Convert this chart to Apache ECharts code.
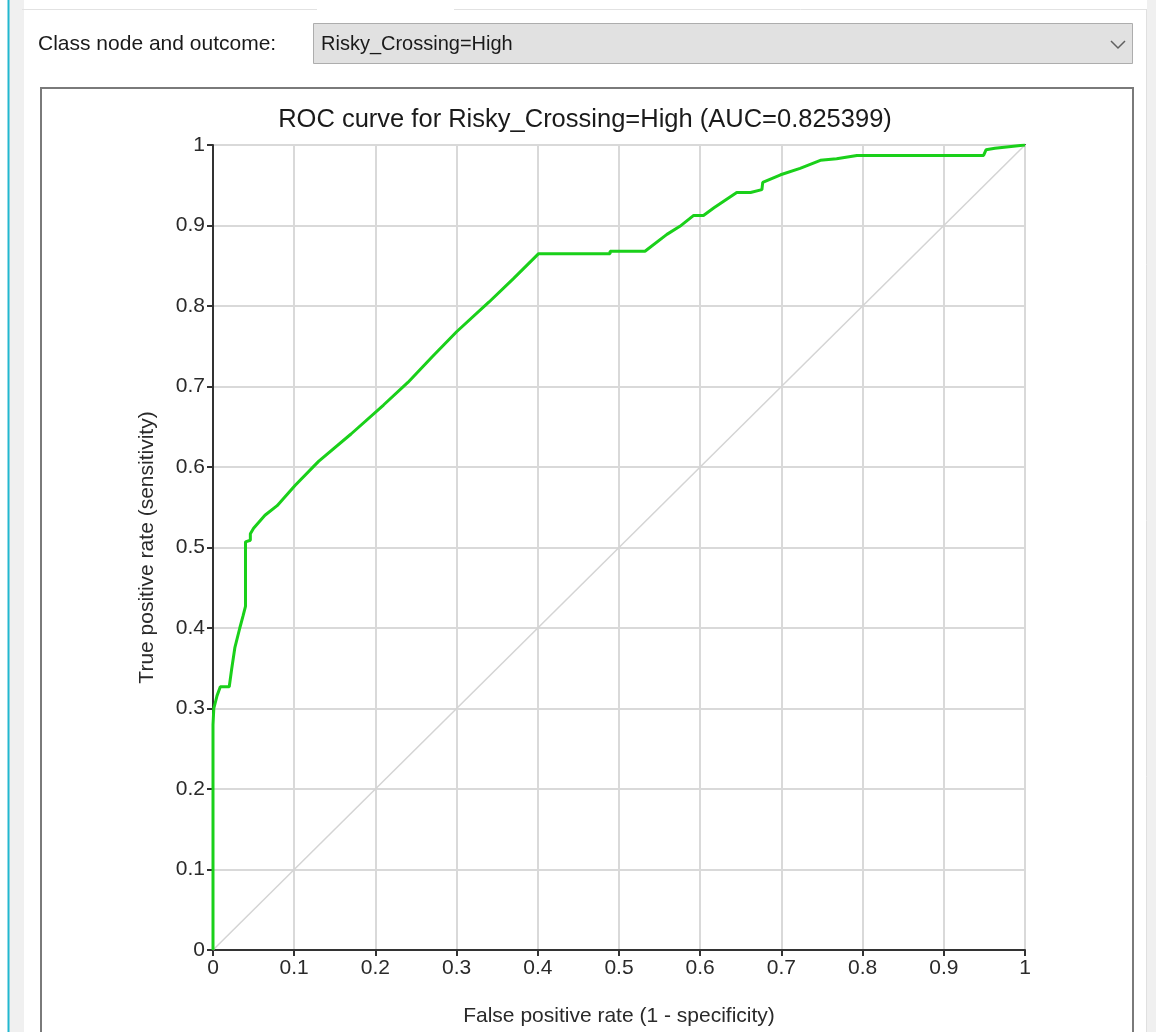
<!DOCTYPE html>
<html>
<head>
<meta charset="utf-8">
<script src="https://cdn.jsdelivr.net/npm/echarts@6/dist/echarts.min.js"></script>
<style>
html,body{margin:0;padding:0;background:#fff;}
#roc{width:1156px;height:1032px;}
</style>
</head>
<body>
<div id="roc"></div>
<script>
// ROC curve points (false positive rate / true positive rate)
var fpr = [0, 0, 0.001, 0.005, 0.009, 0.020, 0.023, 0.027, 0.033, 0.037, 0.040, 0.040, 0.046, 0.046,
    0.050, 0.064, 0.079, 0.101, 0.130, 0.170, 0.210, 0.240, 0.270, 0.300, 0.340, 0.370, 0.401,
    0.489, 0.489, 0.532, 0.559, 0.575, 0.592, 0.604, 0.617, 0.645, 0.662, 0.676, 0.677, 0.699,
    0.723, 0.748, 0.768, 0.793, 0.949, 0.952, 0.963, 0.965, 1];
var tpr = [0, 0.280, 0.300, 0.316, 0.327, 0.327, 0.349, 0.376, 0.400, 0.415, 0.427, 0.507, 0.509, 0.517,
    0.524, 0.540, 0.552, 0.577, 0.607, 0.641, 0.677, 0.705, 0.737, 0.768, 0.805, 0.834, 0.865,
    0.865, 0.868, 0.868, 0.889, 0.899, 0.9125, 0.9125, 0.922, 0.941, 0.941, 0.9446, 0.9535, 0.963,
    0.971, 0.981, 0.983, 0.987, 0.987, 0.994, 0.996, 0.998, 1];
var diagX = [0, 1];
var diagY = [0, 1];

var classLabel = 'Class node and outcome:';
var outcome = 'Risky_Crossing=High';
var auc = '0.825399';

var font = '"Liberation Sans", Arial, sans-serif';

var chart = echarts.init(document.getElementById('roc'));

var curve = fpr.map(function(x, i){ return [x, tpr[i]]; });
var diag = diagX.map(function(x, i){ return [x, diagY[i]]; });

var option = {
    animation: false,
    backgroundColor: '#fff',
    title: {
        text: 'ROC curve for ' + outcome + ' (AUC=' + auc + ')',
        left: 580,
        top: 102,
        textAlign: 'center',
        textStyle: {fontFamily: font, fontSize: 25.5, fontWeight: 'normal', color: '#1a1a1a'}
    },
    grid: {
        left: 213, right: 131, top: 145, bottom: 75,
        show: true, borderColor: '#555', borderWidth: 2
    },
    xAxis: {
        type: 'value', min: 0, max: 1, interval: 0.1,
        name: 'False positive rate (1 - specificity)',
        nameLocation: 'middle', nameGap: 56,
        nameTextStyle: {fontFamily: font, fontSize: 21, color: '#2a2a2a'},
        axisLine: {lineStyle: {color: '#333', width: 2}},
        axisTick: {show: true, length: 6, lineStyle: {color: '#333', width: 2}},
        axisLabel: {fontFamily: font, fontSize: 21, color: '#2a2a2a', margin: 8},
        splitLine: {show: true, lineStyle: {color: '#d9d9d9', width: 2}}
    },
    yAxis: {
        type: 'value', min: 0, max: 1, interval: 0.1,
        name: 'True positive rate (sensitivity)',
        nameLocation: 'middle', nameGap: 55,
        nameTextStyle: {fontFamily: font, fontSize: 21, color: '#2a2a2a'},
        axisLine: {lineStyle: {color: '#333', width: 2}},
        axisTick: {show: true, length: 6, lineStyle: {color: '#333', width: 2}},
        axisLabel: {fontFamily: font, fontSize: 21, color: '#2a2a2a', margin: 8},
        splitLine: {show: true, lineStyle: {color: '#d9d9d9', width: 2}}
    },
    series: [
        {
            type: 'line', data: diag, symbol: 'none', silent: true, z: 1,
            lineStyle: {color: '#d4d4d4', width: 1.5}
        },
        {
            type: 'line', data: curve, symbol: 'none', z: 3,
            lineStyle: {color: '#1ad01a', width: 3}
        }
    ],
    graphic: [
        {type: 'rect', shape: {x: 9, y: 0, width: 15, height: 1032}, style: {fill: '#f0f0f0'}, silent: true},
        {type: 'line', shape: {x1: 8.5, y1: 0, x2: 8.5, y2: 1032}, style: {stroke: '#22b8d0', lineWidth: 2}, silent: true},
        {type: 'line', shape: {x1: 22, y1: 9.5, x2: 317, y2: 9.5}, style: {stroke: '#e2e2e2', lineWidth: 1}, silent: true},
        {type: 'line', shape: {x1: 454, y1: 9.5, x2: 1147, y2: 9.5}, style: {stroke: '#e2e2e2', lineWidth: 1}, silent: true},
        {type: 'rect', shape: {x: 1147, y: 0, width: 9, height: 1032}, style: {fill: '#f0f0f0'}, silent: true},
        {type: 'line', shape: {x1: 1146.5, y1: 9, x2: 1146.5, y2: 1032}, style: {stroke: '#e0e0e0', lineWidth: 1}, silent: true},
        {type: 'text', left: 38, top: 34, silent: true,
            style: {text: classLabel, fontFamily: font, fontSize: 21, fill: '#1a1a1a'}},
        {type: 'rect', shape: {x: 313.5, y: 23.5, width: 819, height: 40}, silent: true,
            style: {fill: '#e1e1e1', stroke: '#adadad', lineWidth: 1}},
        {type: 'text', left: 321, top: 34, silent: true,
            style: {text: outcome, fontFamily: font, fontSize: 20, fill: '#1a1a1a'}},
        {type: 'polyline', shape: {points: [[1111, 41], [1118, 48], [1125, 41]]}, silent: true,
            style: {stroke: '#606060', lineWidth: 1.5, fill: null}},
        {type: 'rect', shape: {x: 41, y: 88, width: 1092, height: 1000}, silent: true,
            style: {fill: 'none', stroke: '#7a7a7a', lineWidth: 2}}
    ]
};

chart.setOption(option);
window.onresize = function(){ chart.resize(); };
</script>
</body>
</html>
